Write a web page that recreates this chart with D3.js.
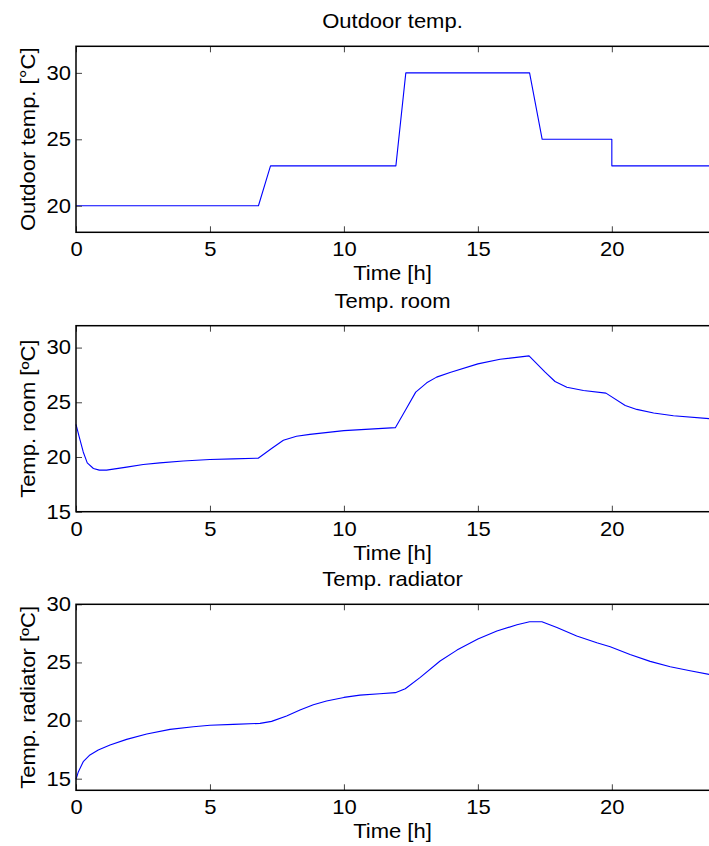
<!DOCTYPE html>
<html>
<head>
<meta charset="utf-8">
<script src="https://cdn.jsdelivr.net/npm/d3@7"></script>
<style>
  body { margin: 0; background: #fff; }
  svg text { font-family: "Liberation Sans", Arial, Helvetica, sans-serif; fill: #000; }
</style>
</head>
<body>
<svg id="fig" width="709" height="846"></svg>
<script>
// ---- data ----
const xTicks = [0, 5, 10, 15, 20];

const outdoorTime = [0, 6.81, 7.26, 11.94, 12.31, 16.93, 17.4, 20.0, 20.0, 24];
const outdoorTemp = [20, 20, 23, 23, 30, 30, 25, 25, 23, 23];
const outdoorTicks = [20, 25, 30];

const roomTime = [0, 0.12, 0.27, 0.42, 0.65, 0.87, 1.14, 1.89, 2.51, 3.13, 4.0, 5.0, 5.87, 6.8,
  7.3, 7.74, 8.23, 8.73, 10, 11.92, 12.3, 12.68, 13.09, 13.46, 13.96, 15.0, 15.83, 16.91,
  17.51, 17.88, 18.32, 18.94, 19.78, 20.5, 20.93, 21.56, 22.3, 23.64, 24];
const roomTemp = [22.98, 21.83, 20.46, 19.46, 18.95, 18.8, 18.8, 19.07, 19.31, 19.46, 19.64, 19.77, 19.83, 19.89,
  20.77, 21.53, 21.89, 22.07, 22.41, 22.68, 24.3, 25.93, 26.78, 27.3, 27.72, 28.51, 28.93, 29.24,
  27.75, 26.9, 26.38, 26.08, 25.84, 24.71, 24.35, 24.02, 23.77, 23.5, 23.42];
const roomTicks = [15, 20, 25, 30];

const radTime = [0, 0.09, 0.27, 0.52, 0.83, 1.27, 1.89, 2.64, 3.51, 4.38, 5.0, 5.87, 6.87, 7.3,
  7.86, 8.36, 8.86, 9.35, 10, 10.6, 11.34, 11.92, 12.29, 12.85, 13.59, 14.22, 15, 15.71, 16.46,
  16.93, 17.39, 17.95, 18.69, 19.44, 19.94, 20.68, 21.43, 22.18, 22.92, 23.63, 24];
const radTemp = [14.95, 15.6, 16.46, 17.04, 17.47, 17.9, 18.38, 18.84, 19.24, 19.47, 19.59, 19.67, 19.76, 19.93,
  20.39, 20.9, 21.36, 21.68, 21.99, 22.19, 22.31, 22.4, 22.74, 23.71, 25.12, 26.06, 27.01, 27.7, 28.24,
  28.5, 28.5, 28.01, 27.27, 26.69, 26.35, 25.69, 25.09, 24.63, 24.29, 23.97, 23.85];
const radTicks = [15, 20, 25, 30];

// ---- layout ----
const left = 76, right = 719, panelH = 186;
const fontSize = 20, sx = 1.1;   // text in the source is a bit wider than Helvetica

const svg = d3.select("#fig");

// stretch a text horizontally around its own anchor point
function stretch(sel, k) {
  sel.each(function() {
    const t = d3.select(this);
    const x = +t.attr("x") || 0, y = +t.attr("y") || 0;
    t.attr("transform", `translate(${x},${y}) scale(${k},1) translate(${-x},${-y})`);
  });
}

function drawPanel(p) {
  const g = svg.append("g");
  const x = d3.scaleLinear().domain([0, 24]).range([left, right]);
  const y = d3.scaleLinear().domain(p.domain).range([p.top + panelH, p.top]);

  g.append("path")
    .datum(d3.zip(p.time, p.temp))
    .attr("fill", "none")
    .attr("stroke", "#0000ff")
    .attr("stroke-width", 1.1)
    .attr("stroke-linejoin", "round")
    .attr("d", d3.line().x(d => x(d[0])).y(d => y(d[1])));

  const bottom = g.append("g")
    .attr("transform", `translate(0,${p.top + panelH})`)
    .call(d3.axisBottom(x).tickValues(xTicks).tickFormat(d3.format("d")).tickSize(-6).tickPadding(10));
  const top = g.append("g")
    .attr("transform", `translate(0,${p.top})`)
    .call(d3.axisTop(x).tickValues(xTicks).tickFormat("").tickSize(-6));
  const leftAx = g.append("g")
    .attr("transform", `translate(${left},0)`)
    .call(d3.axisLeft(y).tickValues(p.ticks).tickFormat(d3.format("d")).tickSize(-6).tickPadding(5));
  const rightAx = g.append("g")
    .attr("transform", `translate(${right},0)`)
    .call(d3.axisRight(y).tickValues(p.ticks).tickFormat("").tickSize(-6));

  [bottom, top, leftAx, rightAx].forEach(a => {
    a.select(".domain").remove();
    a.selectAll(".tick line").attr("stroke", "#444").attr("stroke-width", 1);
    a.selectAll("text").attr("font-size", fontSize).attr("font-family", null).attr("fill", "#000");
  });
  stretch(bottom.selectAll(".tick text"), sx);
  stretch(leftAx.selectAll(".tick text"), sx);

  g.append("rect")
    .attr("x", left).attr("y", p.top)
    .attr("width", right - left).attr("height", panelH)
    .attr("fill", "none").attr("stroke", "#000").attr("stroke-width", 1.5);

  const cx = (left + right) / 2 - 5;
  g.append("text")
    .attr("x", cx).attr("y", p.top - 18)
    .attr("text-anchor", "middle").attr("font-size", fontSize)
    .text(p.title)
    .call(stretch, sx);

  g.append("text")
    .attr("x", cx).attr("y", p.top + panelH + 48)
    .attr("text-anchor", "middle").attr("font-size", fontSize)
    .text("Time [h]")
    .call(stretch, sx);

  g.append("text")
    .attr("text-anchor", "middle").attr("font-size", fontSize)
    .attr("transform", `translate(35,${p.top + panelH / 2}) rotate(-90) scale(${sx},1)`)
    .text(p.ylabel);
}

drawPanel({ top: 46.3, domain: [18, 32], ticks: outdoorTicks, time: outdoorTime, temp: outdoorTemp,
  title: "Outdoor temp.", ylabel: "Outdoor temp. [°C]" });
drawPanel({ top: 325.7, domain: [15, 32], ticks: roomTicks, time: roomTime, temp: roomTemp,
  title: "Temp. room", ylabel: "Temp. room [ºC]" });
drawPanel({ top: 604.3, domain: [14, 30], ticks: radTicks, time: radTime, temp: radTemp,
  title: "Temp. radiator", ylabel: "Temp. radiator [ºC]" });
</script>
</body>
</html>
